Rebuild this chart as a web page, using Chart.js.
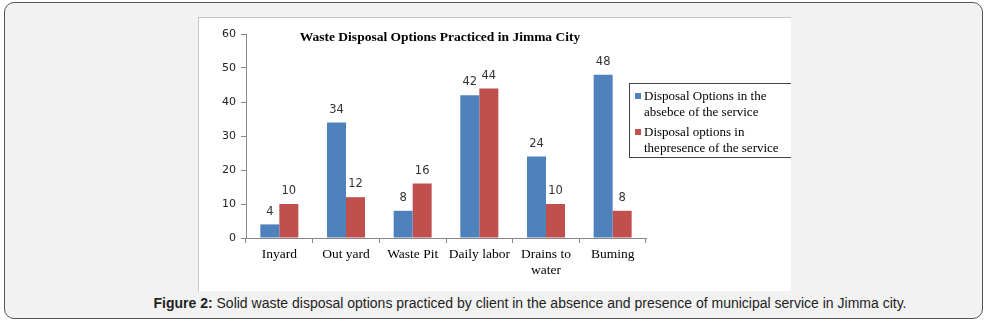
<!DOCTYPE html>
<html lang="en">
<head>
  <meta charset="UTF-8" />
  <title>Waste Disposal Options Practiced in Jimma City</title>
  <script src="https://cdn.jsdelivr.net/npm/chart.js"></script>
  <style>
    body { margin: 0; background: #fff; width: 992px; height: 325px; position: relative; overflow: hidden; }
    .frame { position: absolute; left: 4px; top: 2px; width: 977px; height: 315px; border: 1px solid #555; border-radius: 10px; background: #f2f2f2; }
    .panel { position: absolute; left: 198px; top: 17px; width: 592px; height: 273px; background: #fff; border-left: 1px solid #c8c8c8; border-top: 1px solid #c8c8c8; overflow: hidden; }
    canvas { position: absolute; left: 0; top: 0; }
    .title { position: absolute; left: 0; top: 11px; width: 482px; text-align: center; font: bold 13.5px "Liberation Serif", serif; color: #000; }
    .legend { position: absolute; left: 430px; top: 65px; width: 175px; height: 73px; border: 1px solid #444; font: 13px "Liberation Serif", serif; color: #000; }
    .legend div { position: relative; padding-left: 14px; line-height: 16px; margin-top: 4px; }
    .legend span { position: absolute; left: 5px; top: 5px; width: 6px; height: 6px; }
    .caption { position: absolute; left: 34px; top: 295px; width: 992px; text-align: center; font: 14px "Liberation Sans", Arial, sans-serif; color: #222; }
  </style>
</head>
<body>
  <div class="frame"></div>
  <div class="panel">
    <canvas id="chart" width="592" height="273"></canvas>
    <div class="title">Waste Disposal Options Practiced in Jimma City</div>
    <div class="legend" id="legend"></div>
  </div>
  <div class="caption"><b>Figure 2:</b> Solid waste disposal options practiced by client in the absence and presence of municipal service in Jimma city.</div>

  <script>
    const categories = ['Inyard', 'Out yard', 'Waste Pit', 'Daily labor', ['Drains to', 'water'], 'Buming'];
    const absenceValues = [4, 34, 8, 42, 24, 48];
    const presenceValues = [10, 12, 16, 44, 10, 8];
    const seriesNames = ['Disposal Options in the absebce of the service', 'Disposal options in thepresence of the service'];
    const legendLines = [['Disposal Options in the', 'absebce of the service'], ['Disposal options in', 'thepresence of the service']];
    const seriesColors = ['#4f81bd', '#c0504d'];

    // legend (multi-line, so built by hand)
    const legend = document.getElementById('legend');
    legendLines.forEach((lines, i) => {
      const d = document.createElement('div');
      d.innerHTML = '<span style="background:' + seriesColors[i] + '"></span>' + lines.join('<br>');
      legend.appendChild(d);
    });

    const valueLabels = {
      id: 'valueLabels',
      afterDatasetsDraw(chart) {
        const ctx = chart.ctx;
        ctx.save();
        ctx.font = '11.5px "DejaVu Sans", sans-serif';
        ctx.fillStyle = '#333';
        ctx.textAlign = 'center';
        ctx.textBaseline = 'bottom';
        chart.data.datasets.forEach((ds, i) => {
          chart.getDatasetMeta(i).data.forEach((bar, j) => {
            ctx.fillText(ds.data[j], bar.x, bar.y - 7);
          });
        });
        ctx.restore();
      }
    };

    new Chart(document.getElementById('chart'), {
      type: 'bar',
      data: {
        labels: categories,
        datasets: [
          { label: seriesNames[0], data: absenceValues, backgroundColor: seriesColors[0] },
          { label: seriesNames[1], data: presenceValues, backgroundColor: seriesColors[1] }
        ]
      },
      options: {
        responsive: false,
        animation: false,
        events: [],
        layout: { padding: { left: 0, top: 16, right: 145, bottom: 0 } },
        datasets: { bar: { categoryPercentage: 0.57, barPercentage: 1 } },
        plugins: { legend: { display: false }, tooltip: { enabled: false } },
        scales: {
          x: {
            afterFit(scale) { scale.height = 53; },
            grid: { drawOnChartArea: false, drawTicks: true, tickLength: 5, color: '#888', offset: true },
            border: { display: true, color: '#888' },
            ticks: { color: '#000', font: { family: '"Liberation Serif", serif', size: 13.5 }, padding: 3, maxRotation: 0 }
          },
          y: {
            min: 0, max: 60,
            afterFit(scale) { scale.width = 47; },
            grid: { drawOnChartArea: false, drawTicks: true, tickLength: 5, color: '#888' },
            border: { display: true, color: '#888' },
            ticks: { stepSize: 10, color: '#222', font: { family: '"DejaVu Sans", sans-serif', size: 11 }, padding: 5 }
          }
        }
      },
      plugins: [valueLabels]
    });
  </script>
</body>
</html>
